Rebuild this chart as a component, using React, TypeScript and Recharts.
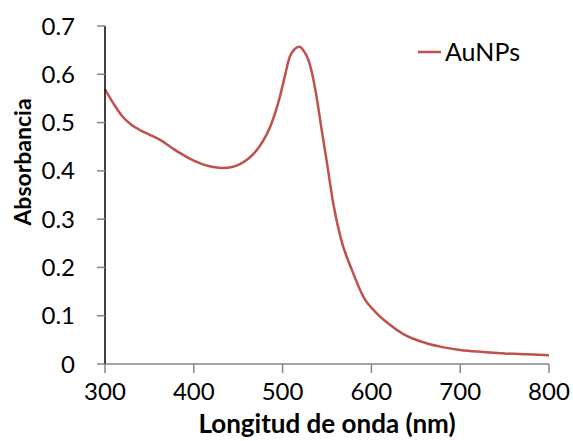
import React from "react";
import { LineChart, Line, XAxis, YAxis } from "recharts";

const wavelengths = [
  300, 310, 320, 330, 340, 350, 362, 375, 388, 400, 411, 422, 433, 443, 452, 462, 471, 478, 486, 492, 497,
  502, 508, 513, 519, 524, 529, 533, 537, 544, 550, 557, 566, 578, 591, 606, 619, 636, 662, 680, 700, 725,
  750, 775, 800,
];
const absorbance = [
  0.569, 0.538, 0.512, 0.495, 0.484, 0.475, 0.464, 0.448, 0.433, 0.421, 0.413, 0.408, 0.406, 0.408, 0.414,
  0.426, 0.443, 0.462, 0.491, 0.522, 0.554, 0.592, 0.636, 0.651, 0.657, 0.648, 0.630, 0.603, 0.567, 0.485,
  0.416, 0.333, 0.257, 0.195, 0.139, 0.105, 0.084, 0.062, 0.043, 0.035, 0.029, 0.025, 0.022, 0.020, 0.018,
];
const xTicks = [300, 400, 500, 600, 700, 800];
const yTicks = [0, 0.1, 0.2, 0.3, 0.4, 0.5, 0.6, 0.7];
const seriesName = "AuNPs";

const data = wavelengths.map((w, i) => ({ w, abs: absorbance[i] }));

const FONT = "Lato, 'Open Sans', sans-serif";
const RED = "#C0504D";
const GRAY = "#868686";

export default function App() {
  return (
    <div style={{ position: "absolute", left: 0, top: 0, width: 573, height: 441, background: "#fff" }}>
      <LineChart width={573} height={441} data={data} margin={{ top: 26, right: 24, left: 0, bottom: 0 }}>
        <XAxis
          dataKey="w"
          type="number"
          domain={[300, 800]}
          ticks={xTicks}
          height={77}
          axisLine={{ stroke: GRAY, strokeWidth: 1.5 }}
          tickLine={{ stroke: GRAY, strokeWidth: 1.5 }}
          tickSize={9}
          tickMargin={10}
          tick={{ fill: "#000", fontSize: 24, fontFamily: FONT }}
          label={(props: any) => {
            const vb = props.viewBox;
            return (
              <text
                x={vb.x + vb.width / 2}
                y={433}
                textAnchor="middle"
                fontFamily={FONT}
                fontWeight="bold"
                fontSize={26}
                fill="#000"
              >
                Longitud de onda (nm)
              </text>
            );
          }}
        />
        <YAxis
          type="number"
          domain={[0, 0.7]}
          ticks={yTicks}
          width={105}
          axisLine={{ stroke: "#000", strokeWidth: 1.5 }}
          tickLine={{ stroke: GRAY, strokeWidth: 1.5 }}
          tickSize={8}
          tickMargin={22}
          tickFormatter={(v: number) => (v === 0 ? "0" : v.toFixed(1))}
          tick={{ fill: "#000", fontSize: 24, fontFamily: FONT }}
          label={() => (
            <text
              x={31}
              y={162}
              textAnchor="middle"
              transform="rotate(-90 31 162)"
              fontFamily={FONT}
              fontWeight="bold"
              fontSize={23}
              fill="#000"
            >
              Absorbancia
            </text>
          )}
        />
        <Line
          type="monotone"
          dataKey="abs"
          stroke={RED}
          strokeWidth={2.5}
          dot={false}
          isAnimationActive={false}
          name={seriesName}
        />
      </LineChart>
      <svg width={130} height={30} style={{ position: "absolute", left: 418, top: 37, overflow: "visible" }}>
        <line x1={0} y1={15} x2={23} y2={15} stroke={RED} strokeWidth={2.5} />
        <text x={27} y={15} dy="0.35em" fontFamily={FONT} fontSize={25} fill="#000">
          {seriesName}
        </text>
      </svg>
    </div>
  );
}
